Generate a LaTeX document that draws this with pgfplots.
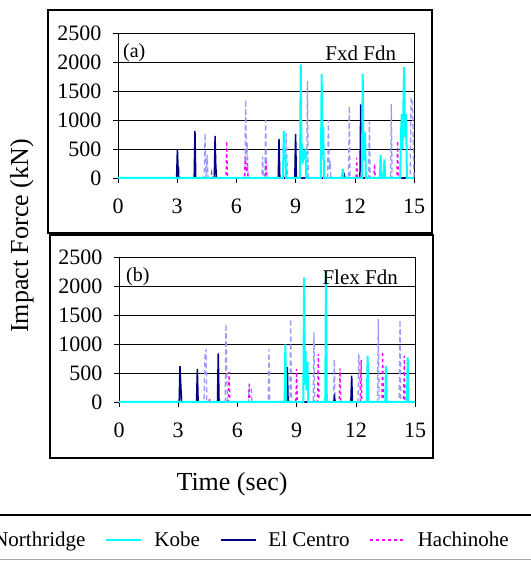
\documentclass[border=0pt]{standalone}
\usepackage{pgfplots}
\pgfplotsset{compat=1.18}
\usepackage{fontspec}
\setmainfont{Liberation Serif}
\definecolor{northc}{RGB}{153,153,255}
\definecolor{navyc}{RGB}{0,0,128}
\definecolor{kobec}{RGB}{0,255,255}
\definecolor{hachc}{RGB}{255,0,255}
\pgfplotsset{
 panel/.style={
  scale only axis, width=296bp, height=145bp,
  xmin=0,xmax=15,ymin=0,ymax=2500,
  xtick={0,3,6,9,12,15}, ytick={0,500,1000,1500,2000,2500},
  xtick pos=bottom, ytick pos=left,
  tick align=outside, major tick length=5bp,
  tick style={black, line width=0.6bp},
  ymajorgrids, grid style={black, line width=0.6bp},
  axis line style={line width=0.6bp},
  /pgf/number format/assume math mode=true,
  /pgf/number format/1000 sep={},
  tick label style={font=\fontsize{22bp}{24bp}\selectfont},
  xticklabel style={yshift=-12bp},
  yticklabel style={xshift=-8bp},
  clip=false,
 },
 nr/.style={northc, dash pattern=on 5bp off 3bp, line width=1.3bp},
 kb/.style={kobec, line width=2bp},
 ec/.style={navyc, line width=1.5bp},
 hc/.style={hachc, dash pattern=on 3bp off 3bp, line width=1.3bp},
}
\begin{document}
\begin{tikzpicture}[x=1bp,y=1bp]
\useasboundingbox (0,0) rectangle (531,561);
\draw[line width=1.2bp] (48,328) rectangle (432,551);
\draw[line width=1.2bp] (50,103) rectangle (433,326);
\draw[line width=1.5bp] (0,46) -- (531,46);
\draw[line width=1bp, gray!70] (0,1) -- (531,1);
% ---------- panel (a)
\begin{axis}[panel, at={(118bp,383bp)}, anchor=south west]
\addplot[nr] coordinates {(0,0) (3.06,0) (3.1,120) (3.14,0) (4.37,0) (4.41,770) (4.46,0) (4.48,0)(4.52,400)(4.56,0) (6.43,0)(6.47,1345)(6.51,300)(6.55,600)(6.59,0) (7.29,0)(7.33,370)(7.37,0) (7.44,0)(7.48,1000)(7.52,200)(7.56,0) (8.48,0)(8.52,770)(8.56,300)(8.6,0) (9.56,0)(9.6,1670)(9.64,0) (10.62,0)(10.66,1000)(10.7,150)(10.75,300)(10.79,0) (11.68,0)(11.72,1240)(11.76,0) (12.7,0)(12.74,970)(12.78,0) (13.81,0)(13.85,1275)(13.89,0) (14.81,0)(14.85,1390)(14.92,1300)(15,0)};
\addplot[hc] coordinates {(0,0)(4.71,0)(4.75,90)(4.79,0)(5.47,0)(5.51,640)(5.55,0)(6.41,0)(6.45,370)(6.5,100)(6.55,250)(6.59,0)(7.46,0)(7.5,280)(7.54,0)(12.06,0)(12.1,345)(12.14,0)(12.96,0)(13.0,240)(13.04,0)(14.13,0)(14.17,640)(14.21,0)(15,0)};
\addplot[ec] coordinates {(0,0)(2.97,0)(3.01,495)(3.04,200)(3.07,0)(3.86,0)(3.90,810)(3.94,0)(4.88,0)(4.92,725)(4.95,250)(4.99,0)(8.12,0)(8.16,670)(8.2,0)(8.96,0)(9.0,760)(9.04,0)(11.43,0)(11.47,50)(11.51,0)(12.26,0)(12.30,1270)(12.33,600)(12.37,0)(15,0)};
\addplot[kb] coordinates {(0,0)(8.36,0)(8.40,810)(8.44,300)(8.48,400)(8.52,0)(9.22,0)(9.26,1960)(9.3,300)(9.32,600)(9.36,250)(9.42,450)(9.5,480)(9.54,0)(10.28,0)(10.32,1790)(10.36,400)(10.40,890)(10.44,0)(11.35,0)(11.39,150)(11.43,0)(12.36,0)(12.40,1790)(12.44,300)(12.47,450)(12.52,800)(12.56,0)(13.27,0)(13.31,395)(13.35,0)(13.46,0)(13.5,320)(13.54,0)(14.3,0)(14.34,750)(14.38,1100)(14.42,500)(14.5,1910)(14.54,700)(14.6,1100)(14.64,0)(15,0)};
\node[anchor=base west, inner sep=0pt, font=\fontsize{20bp}{22bp}\selectfont] at (axis cs:0.25,2080) {(a)};
\node[anchor=base east, inner sep=0pt, font=\fontsize{21bp}{23bp}\selectfont] at (axis cs:14.1,2020) {Fxd Fdn};
\end{axis}
% ---------- panel (b)
\begin{axis}[panel, at={(119bp,159bp)}, anchor=south west,
  ylabel={Impact Force (kN)},
  ylabel style={at={(axis description cs:-0.328,1.1448)}, anchor=center, font=\fontsize{26bp}{28bp}\selectfont},
  xlabel={Time (sec)},
  xlabel style={at={(axis description cs:0.3818,-0.5686)}, anchor=center, font=\fontsize{26bp}{28bp}\selectfont},
  legend columns=4,
  legend image code/.code={\draw[#1] (0bp,0bp) -- (35bp,0bp);},
  legend style={draw=none, fill=none, inner sep=0pt, at={(1.3175,-0.9517)}, anchor=east,
    font=\fontsize{21bp}{23bp}\selectfont, nodes={inner sep=0pt},
    /tikz/every odd column/.append style={column sep=12bp},
    /tikz/every even column/.append style={column sep=20bp}},
]
\addlegendimage{nr}\addlegendentry{Northridge}
\addlegendimage{kb}\addlegendentry{Kobe}
\addlegendimage{ec}\addlegendentry{El Centro}
\addlegendimage{hc}\addlegendentry{Hachinohe}
\addplot[nr, forget plot] coordinates {(0,0)(3.11,0)(3.15,150)(3.19,0)(4.31,0)(4.35,750)(4.41,910)(4.45,0)(5.38,0)(5.42,1345)(5.45,665)(5.49,0)(6.56,0)(6.6,300)(6.7,250)(6.74,0)(7.56,0)(7.6,910)(7.64,0)(8.66,0)(8.7,1430)(8.74,0)(9.84,0)(9.88,1200)(9.92,0)(10.87,0)(10.91,735)(10.95,0)(12.11,0)(12.15,825)(12.2,400)(12.24,0)(13.1,0)(13.14,1430)(13.18,0)(14.2,0)(14.24,1415)(14.28,0)(15,0)};
\addplot[hc, forget plot] coordinates {(0,0)(4.56,0)(4.6,60)(4.64,0)(5.54,0)(5.58,520)(5.62,0)(6.56,0)(6.6,305)(6.64,0)(8.96,0)(9.0,570)(9.04,0)(10.06,0)(10.1,825)(10.14,0)(11.16,0)(11.2,580)(11.24,0)(12.23,0)(12.27,725)(12.31,0)(13.32,0)(13.36,870)(13.4,0)(14.42,0)(14.46,795)(14.5,0)(15,0)};
\addplot[ec, forget plot] coordinates {(0,0)(3.05,0)(3.09,620)(3.13,300)(3.17,0)(3.93,0)(3.97,570)(4.01,0)(4.99,0)(5.03,840)(5.07,0)(8.49,0)(8.53,600)(8.57,0)(10.88,0)(10.92,80)(10.96,0)(11.75,0)(11.79,455)(11.83,0)(15,0)};
\addplot[kb, forget plot] coordinates {(0,0)(8.39,0)(8.43,995)(8.47,0)(9.34,0)(9.38,2145)(9.42,300)(9.45,880)(9.5,200)(9.55,700)(9.59,0)(10.45,0)(10.49,2260)(10.53,0)(12.56,0)(12.6,795)(12.64,0)(13.49,0)(13.53,620)(13.57,0)(14.59,0)(14.63,770)(14.67,0)(15,0)};
\node[anchor=base west, inner sep=0pt, font=\fontsize{20bp}{22bp}\selectfont] at (axis cs:0.35,2086) {(b)};
\node[anchor=base east, inner sep=0pt, font=\fontsize{21bp}{23bp}\selectfont] at (axis cs:14.14,2030) {Flex Fdn};
\end{axis}
\end{tikzpicture}
\end{document}
